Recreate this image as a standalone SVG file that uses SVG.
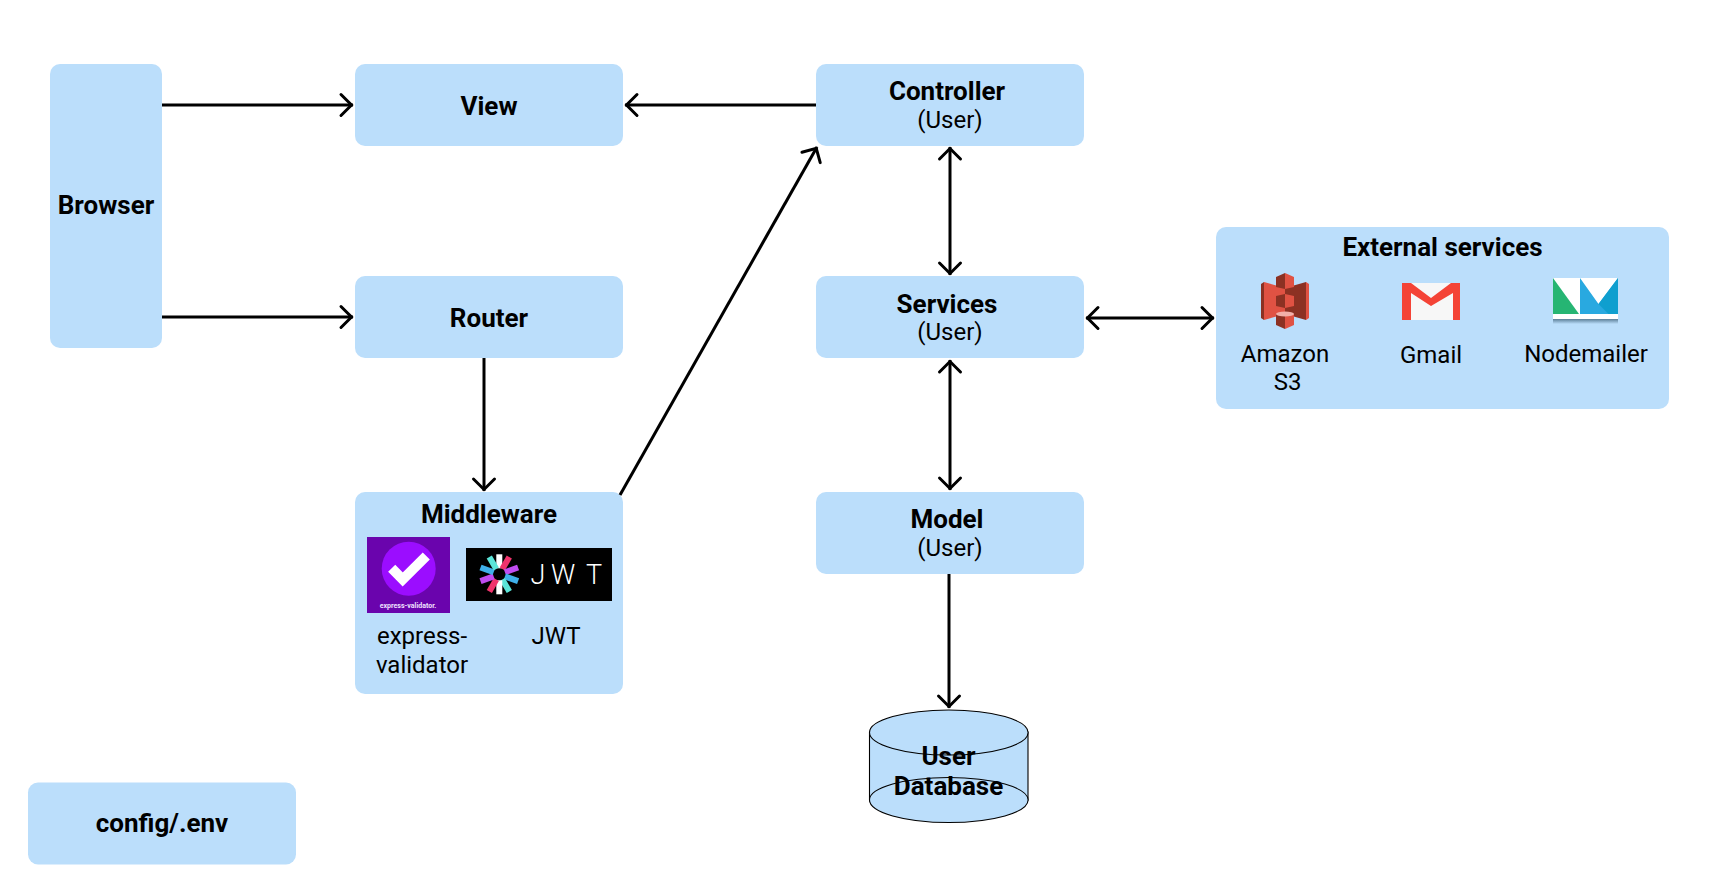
<svg xmlns="http://www.w3.org/2000/svg" width="1731" height="885" viewBox="0 0 1731 885">
<style>
.box{fill:#bbdefb}
text{font-family:Roboto,"Liberation Sans",sans-serif;fill:#000;text-anchor:middle;font-size:24px}
.b{font-weight:700;font-size:26px}
.conn{stroke:#000;stroke-width:3;fill:none;marker-end:url(#arr)}
.two{marker-start:url(#arr)}
.cyl{fill:#bbdefb;stroke:#000;stroke-width:1.1}
.ray{stroke-width:6}
</style>
<defs>
<marker id="arr" markerUnits="userSpaceOnUse" markerWidth="30" markerHeight="30" refX="16.5" refY="15" orient="auto-start-reverse" viewBox="0 0 30 30">
<path d="M4.5 4.5L15 15L4.5 25.5" fill="none" stroke="#000" stroke-width="3" stroke-linecap="round"/>
</marker>
<linearGradient id="nmshadow" x1="0" y1="0" x2="0" y2="1"><stop offset="0" stop-color="#5c7f98"/><stop offset="1" stop-color="#5c7f98" stop-opacity="0"/></linearGradient>
</defs>
<rect width="1731" height="885" fill="#fff"/>

<g id="browser"><rect class="box" x="50" y="64" width="112" height="284" rx="10"/><text class="b" x="106" y="213.5">Browser</text></g>
<g id="view"><rect class="box" x="355" y="64" width="268" height="82" rx="10"/><text class="b" x="489" y="114.5">View</text></g>
<g id="router"><rect class="box" x="355" y="276" width="268" height="82" rx="10"/><text class="b" x="489" y="326.5">Router</text></g>
<g id="controller"><rect class="box" x="816" y="64" width="268" height="82" rx="10"/><text class="b" x="947" y="100">Controller</text><text x="950" y="128">(User)</text></g>
<g id="services"><rect class="box" x="816" y="276" width="268" height="82" rx="10"/><text class="b" x="947" y="312.5">Services</text><text x="950" y="340">(User)</text></g>
<g id="model"><rect class="box" x="816" y="492" width="268" height="82" rx="10"/><text class="b" x="947" y="528">Model</text><text x="950" y="556">(User)</text></g>
<g id="config"><rect class="box" x="28" y="782.5" width="268" height="82" rx="10"/><text class="b" x="162" y="832">config/.env</text></g>

<g id="middleware"><rect class="box" x="355" y="492" width="268" height="202" rx="10"/><text class="b" x="489" y="522.5">Middleware</text>
<g id="express-validator-logo">
<rect x="367" y="537" width="83" height="76" fill="#6a04ad"/>
<circle cx="408.7" cy="568.7" r="27" fill="#9b0dff"/>
<path d="M391.7 568.3L402.7 579.5L426.3 556" fill="none" stroke="#fff" stroke-width="10"/>
<text x="408" y="608" style="font-size:7px;font-weight:700;fill:#f0e0ff">express-validator.</text>
</g>
<g id="jwt-logo">
<rect x="466" y="548" width="146" height="53" fill="#000"/>
<g class="ray" transform="translate(499.3 574.3)">
<path d="M0-6V-20" stroke="#fff"/>
<path d="M0-6V-20" stroke="#f0336c" transform="rotate(30)"/>
<path d="M0-6V-20" stroke="#c04cf0" transform="rotate(70)"/>
<path d="M0-6V-20" stroke="#3fb0ea" transform="rotate(110)"/>
<path d="M0-6V-20" stroke="#5be5d8" transform="rotate(150)"/>
<path d="M0-6V-20" stroke="#fff" transform="rotate(180)"/>
<path d="M0-6V-20" stroke="#f0336c" transform="rotate(210)"/>
<path d="M0-6V-20" stroke="#c04cf0" transform="rotate(250)"/>
<path d="M0-6V-20" stroke="#3fb0ea" transform="rotate(290)"/>
<path d="M0-6V-20" stroke="#5be5d8" transform="rotate(330)"/>
</g>
<text x="538 563 594" y="584" style="font-size:27px;font-weight:300;fill:#fff">JWT</text>
</g>
<text x="422" y="644">express-</text><text x="422" y="672.5">validator</text><text x="556" y="643.5">JWT</text>
</g>

<g id="external-services"><rect class="box" x="1216" y="227" width="453" height="182" rx="10"/><text class="b" x="1442.5" y="256">External services</text>
<g id="s3-logo">
<path d="M1264 282L1285 288V314L1264 320Z" fill="#e05243"/>
<path d="M1261 284L1264 282V320L1261 318Z" fill="#8c3123"/>
<path d="M1306 282L1285 288V314L1306 320Z" fill="#8c3123"/>
<path d="M1306 282L1309 284V318L1306 320Z" fill="#e05243"/>
<path d="M1276 277L1285 273V289L1276 287Z" fill="#8c3123"/>
<path d="M1294 277L1285 273V289L1294 287Z" fill="#e05243"/>
<path d="M1276 296L1285 294V308L1276 306Z" fill="#8c3123"/>
<path d="M1294 296L1285 294V308L1294 306Z" fill="#e05243"/>
<path d="M1276 314V325L1285 329V316Z" fill="#8c3123"/>
<path d="M1294 314V325L1285 329V316Z" fill="#e05243"/>
<ellipse cx="1285" cy="314" rx="9" ry="2.5" fill="#f2b0a9"/>
</g>
<g id="gmail-logo">
<rect x="1402" y="283" width="58" height="37" fill="#f7f7f7"/>
<path d="M1402 283h9L1431 298L1451 283h9V320h-7V293L1431 306L1411 293V320h-9Z" fill="#f44336"/>
</g>
<g id="nodemailer-logo">
<rect x="1553" y="319" width="65" height="5" fill="url(#nmshadow)"/>
<rect x="1553" y="278" width="65" height="41" fill="#fff"/>
<path d="M1553 278V314H1579Z" fill="#26b573"/>
<path d="M1580 278V314H1618V278L1598.5 304Z" fill="#29a9e0"/>
<path d="M1598.5 304L1618 278V314H1608.5Z" fill="#0f9fcf"/>
</g>
<text x="1285" y="362">Amazon</text><text x="1287.5" y="390">S3</text><text x="1431" y="363">Gmail</text><text x="1586" y="362">Nodemailer</text>
</g>

<g id="user-database">
<path class="cyl" d="M869.5 732V800A79.5 22.5 0 0 0 1028 800V732Z"/>
<ellipse class="cyl" cx="948.8" cy="800" rx="79.3" ry="22.5"/>
<ellipse class="cyl" cx="948.8" cy="732.5" rx="79.3" ry="22.5"/>
<text class="b" x="948.5" y="764.5">User</text><text class="b" x="948.5" y="794.5">Database</text>
</g>

<g id="connectors">
<path class="conn" d="M162 105H353"/>
<path class="conn" d="M162 317H353"/>
<path class="conn" d="M816 105H625"/>
<path class="conn" d="M484 358V491"/>
<path class="conn" d="M620 495L817 147"/>
<path class="conn two" d="M950 147V275"/>
<path class="conn two" d="M950 360V490"/>
<path class="conn two" d="M1086 318H1214"/>
<path class="conn" d="M949 574V708"/>
</g>
</svg>
